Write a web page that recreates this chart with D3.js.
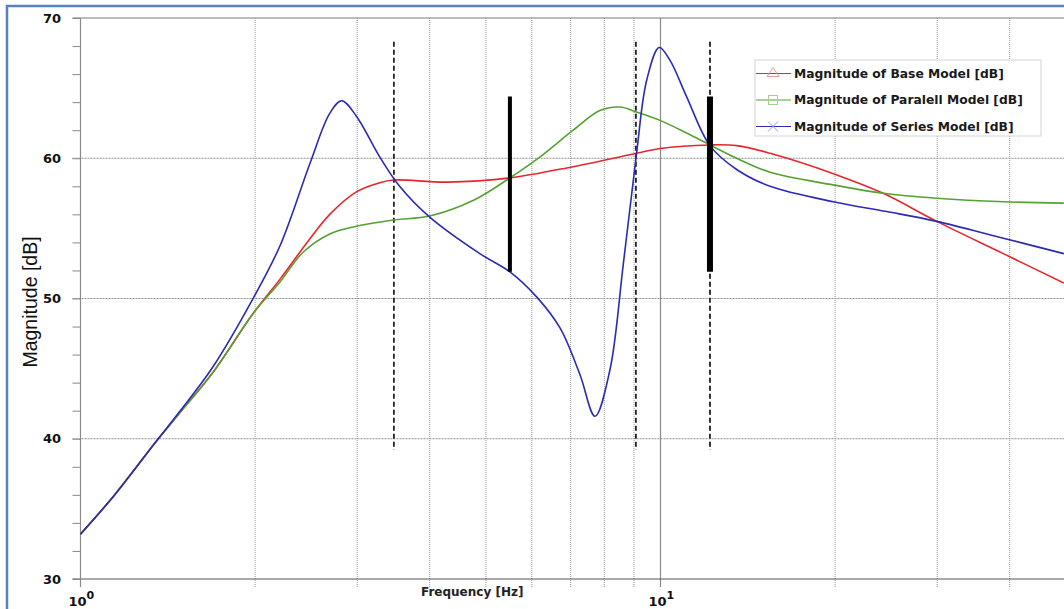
<!DOCTYPE html>
<html>
<head>
<meta charset="utf-8">
<script src="https://cdn.jsdelivr.net/npm/d3@7"></script>
<style>
  body { margin: 0; background: #fff; }
  svg { display: block; }
</style>
</head>
<body>
<svg id="chart"></svg>
<script>

// series: frequency [Hz] and magnitude [dB]
var freqBase = [1.0, 1.14, 1.35, 1.48, 1.69, 1.99, 2.21, 2.49, 2.69, 2.99, 3.28, 3.46, 4.28, 5.50, 7.07, 9.09, 9.98, 12.17, 13.53, 15.45, 19.86, 24.2, 29.94, 39.0, 49.6]
var magBase  = [33.2, 35.9, 39.8, 41.8, 44.7, 49.0, 51.4, 54.3, 56.0, 57.6, 58.25, 58.45, 58.3, 58.6, 59.4, 60.35, 60.7, 60.95, 60.9, 60.35, 58.9, 57.5, 55.5, 53.2, 51.1]

var freqParallel = [1.0, 1.14, 1.35, 1.48, 1.69, 1.99, 2.21, 2.42, 2.69, 2.99, 3.46, 4.0, 4.76, 5.50, 6.2, 7.07, 7.86, 8.51, 9.09, 9.98, 11.09, 12.17, 13.53, 15.45, 19.86, 24.2, 29.94, 39.0, 49.6]
var magParallel  = [33.2, 35.9, 39.8, 41.8, 44.7, 49.0, 51.2, 53.3, 54.6, 55.15, 55.6, 55.88, 57.0, 58.6, 60.1, 62.0, 63.4, 63.65, 63.3, 62.7, 61.8, 60.95, 60.0, 59.0, 58.1, 57.5, 57.15, 56.9, 56.8]

var freqSeries = [1.0, 1.14, 1.35, 1.48, 1.69, 1.99, 2.21, 2.49, 2.69, 2.82, 2.99, 3.28, 3.55, 4.0, 4.88, 5.50, 6.12, 6.71, 7.26, 7.71, 8.18, 8.63, 9.09, 9.47, 9.95, 10.38, 11.09, 12.17, 13.53, 15.45, 19.86, 24.55, 29.94, 39.0, 49.6]
var magSeries  = [33.2, 35.9, 39.8, 41.9, 45.1, 50.1, 53.8, 59.7, 63.2, 64.1, 63.0, 60.1, 58.0, 55.8, 53.2, 51.9, 50.1, 47.9, 44.6, 41.6, 44.9, 52.5, 60.3, 65.6, 67.9, 67.0, 64.4, 60.9, 59.2, 58.0, 56.9, 56.2, 55.5, 54.3, 53.2]

var seriesNames = ["Magnitude of Base Model [dB]", "Magnitude of Paralell Model [dB]", "Magnitude of Series Model [dB]"]
var seriesColors = ["#e8262c", "#55a233", "#2b2bb3"]
var legendColors = ["#f09a9a", "#a6cf94", "#9a9ae0"]

var yTicks = [30, 40, 50, 60, 70]
var xDecades = [1, 10]
var xGridValues = [2, 3, 4, 5, 6, 7, 8, 9, 20, 30, 40, 50]

// marker lines: dashed guides and thick bars
var dashedFreqs = [3.47, 9.07, 12.17]
var dashedRange = [39.2, 68.3]
var barFreqs = [5.50, 12.17]
var barWidths = [4, 6]
var barRange = [51.9, 64.4]

var dimensions = {
  width: 1064,
  height: 609,
  margin: { top: 18, left: 80.5, bottom: 30 }
}

var svg = d3.select("#chart")
  .attr("width", dimensions.width)
  .attr("height", dimensions.height)

var xScale = d3.scaleLog()
  .domain([1, 50])
  .range([dimensions.margin.left, dimensions.margin.left + 580 * Math.log10(50)])

var yScale = d3.scaleLinear()
  .domain([30, 70])
  .range([579, dimensions.margin.top])

// outer blue frame
svg.append("rect")
  .attr("x", 7)
  .attr("y", 6)
  .attr("width", 1200)
  .attr("height", 800)
  .attr("fill", "none")
  .attr("stroke", "#5483c0")
  .attr("stroke-width", 2.5)

// vertical grid
svg.append("g")
  .selectAll("line")
  .data(xGridValues)
  .join("line")
  .attr("x1", d => xScale(d))
  .attr("x2", d => xScale(d))
  .attr("y1", yScale(70))
  .attr("y2", yScale(30) + 8)
  .attr("stroke", "#949494")
  .attr("stroke-width", 1)
  .attr("stroke-dasharray", "1,1")

svg.append("line")
  .attr("x1", xScale(10))
  .attr("x2", xScale(10))
  .attr("y1", yScale(70))
  .attr("y2", yScale(30) + 8)
  .attr("stroke", "#8a8a8a")
  .attr("stroke-width", 1.2)

// horizontal grid
svg.append("g")
  .selectAll("line")
  .data([40, 50, 60])
  .join("line")
  .attr("x1", dimensions.margin.left - 8)
  .attr("x2", dimensions.width)
  .attr("y1", d => yScale(d))
  .attr("y2", d => yScale(d))
  .attr("stroke", "#8f8f8f")
  .attr("stroke-width", 1)
  .attr("stroke-dasharray", "2,1")

// frame lines
svg.append("line")
  .attr("x1", dimensions.margin.left - 8).attr("x2", dimensions.width)
  .attr("y1", yScale(70)).attr("y2", yScale(70))
  .attr("stroke", "#7a7a7a").attr("stroke-width", 1.2)
svg.append("line")
  .attr("x1", dimensions.margin.left - 8).attr("x2", dimensions.width)
  .attr("y1", yScale(30)).attr("y2", yScale(30))
  .attr("stroke", "#555").attr("stroke-width", 1.2)
svg.append("line")
  .attr("x1", dimensions.margin.left).attr("x2", dimensions.margin.left)
  .attr("y1", yScale(70)).attr("y2", yScale(30) + 8)
  .attr("stroke", "#8a8a8a").attr("stroke-width", 1.2)

// y axis with minor ticks every 2 dB
var yAxis = d3.axisLeft(yScale)
  .tickValues(d3.range(30, 71, 2))
  .tickSize(8)
  .tickFormat("")
var yAxisG = svg.append("g")
  .attr("transform", `translate(${dimensions.margin.left},0)`)
  .call(yAxis)
yAxisG.select(".domain").remove()
yAxisG.selectAll(".tick line").attr("stroke", "#8a8a8a")

svg.append("g")
  .selectAll("text")
  .data(yTicks)
  .join("text")
  .attr("x", 61)
  .attr("y", d => yScale(d))
  .attr("dy", "0.35em")
  .attr("text-anchor", "end")
  .style("font-family", "DejaVu Sans, Verdana, sans-serif")
  .style("font-weight", "bold")
  .style("font-size", "13px")
  .attr("fill", "#111")
  .text(d => d)

// x decade labels 10^n
var decadeLabels = svg.append("g")
  .selectAll("text")
  .data(xDecades)
  .join("text")
  .attr("x", d => xScale(d) - 12)
  .attr("y", 606)
  .style("font-family", "DejaVu Sans, Verdana, sans-serif")
  .style("font-weight", "bold")
  .style("font-size", "13px")
  .attr("fill", "#111")
decadeLabels.append("tspan").text("10")
decadeLabels.append("tspan")
  .attr("dy", -7)
  .style("font-size", "11px")
  .text(d => Math.round(Math.log10(d)))

svg.append("text")
  .attr("x", 421)
  .attr("y", 596)
  .style("font-family", "DejaVu Sans, Verdana, sans-serif")
  .style("font-weight", "bold")
  .style("font-size", "12px")
  .attr("fill", "#222")
  .text("Frequency [Hz]")

svg.append("text")
  .attr("transform", "translate(37,302) rotate(-90)")
  .attr("text-anchor", "middle")
  .style("font-family", "Liberation Sans, Arial, sans-serif")
  .style("font-size", "19.5px")
  .attr("fill", "#111")
  .text("Magnitude [dB]")

// dashed guides
svg.append("g")
  .selectAll("line")
  .data(dashedFreqs)
  .join("line")
  .attr("x1", d => xScale(d))
  .attr("x2", d => xScale(d))
  .attr("y1", yScale(dashedRange[1]))
  .attr("y2", yScale(dashedRange[0]))
  .attr("stroke", "#222")
  .attr("stroke-width", 1.8)
  .attr("stroke-dasharray", "5,3")

// curves
var lineGen = d3.line()
  .x(d => xScale(d[0]))
  .y(d => yScale(d[1]))
  .curve(d3.curveCatmullRom.alpha(0.5))

var seriesData = [
  d3.zip(freqBase, magBase),
  d3.zip(freqParallel, magParallel),
  d3.zip(freqSeries, magSeries)
]

svg.append("g")
  .selectAll("path")
  .data(seriesData)
  .join("path")
  .attr("d", lineGen)
  .attr("fill", "none")
  .attr("stroke", (d, i) => seriesColors[i])
  .attr("stroke-width", 1.6)

// thick bars
svg.append("g")
  .selectAll("line")
  .data(barFreqs)
  .join("line")
  .attr("x1", d => xScale(d))
  .attr("x2", d => xScale(d))
  .attr("y1", yScale(barRange[1]))
  .attr("y2", yScale(barRange[0]))
  .attr("stroke", "#000")
  .attr("stroke-width", (d, i) => barWidths[i])

// legend
var legend = svg.append("g")
  .attr("transform", "translate(755,60)")

legend.append("rect")
  .attr("width", 286)
  .attr("height", 76)
  .attr("fill", "#fff")
  .attr("stroke", "#d4d4d4")

var rows = legend.selectAll("g.row")
  .data(seriesNames)
  .join("g")
  .attr("class", "row")
  .attr("transform", (d, i) => `translate(0,${13.5 + i * 26.5})`)

rows.append("line")
  .attr("x1", 1).attr("x2", 36)
  .attr("stroke", (d, i) => seriesColors[i])
  .attr("stroke-width", 1.2)

rows.each(function(d, i) {
  var g = d3.select(this)
  var c = legendColors[i]
  if (i == 0) {
    g.append("path").attr("d", "M18,-6 L24,3 L12,3 Z")
      .attr("fill", "none").attr("stroke", c)
  } else if (i == 1) {
    g.append("rect").attr("x", 13.5).attr("y", -4.5).attr("width", 9).attr("height", 9)
      .attr("fill", "none").attr("stroke", c)
  } else {
    g.append("path").attr("d", "M13,-5 L23,5 M13,5 L23,-5")
      .attr("stroke", c)
  }
})

rows.append("text")
  .attr("x", 39)
  .attr("dy", "0.36em")
  .style("font-family", "DejaVu Sans, Verdana, sans-serif")
  .style("font-weight", "bold")
  .style("font-size", "12.3px")
  .attr("fill", "#1a1a1a")
  .text(d => d)

</script>
</body>
</html>
